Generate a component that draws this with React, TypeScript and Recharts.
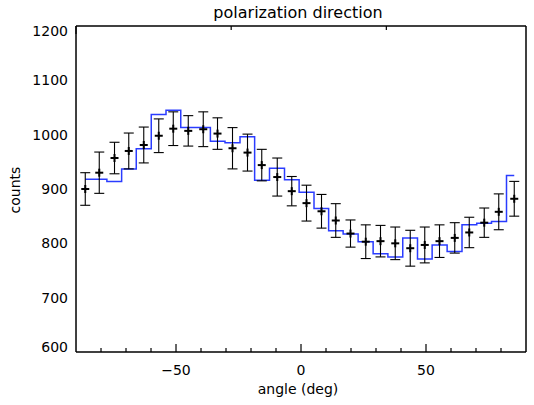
import { ComposedChart, Line, Scatter, ErrorBar, XAxis, YAxis } from 'recharts'

// bin centres (deg), measured counts, 1-sigma errors, model histogram
const angles = [
  -86.3, -80.7, -74.6, -68.9, -62.9, -56.9, -51.1, -45.1, -39.1, -33.4,
  -27.4, -21.4, -15.7, -9.5, -3.7, 2.2, 8.2, 13.9, 19.8, 25.9,
  31.8, 37.7, 43.7, 49.5, 55.4, 61.5, 67.3, 73.3, 79.1, 85.3,
]
const counts = [
  900, 930, 957, 970, 981, 998, 1011, 1007, 1010, 1002,
  975, 967, 944, 922, 896, 874, 859, 842, 818, 803,
  804, 800, 791, 797, 804, 810, 820, 838, 858, 882,
]
const errors = [
  30, 38, 29, 33, 33, 31, 31, 28, 32, 29,
  38, 34, 29, 35, 27, 33, 31, 31, 25, 31,
  29, 30, 33, 33, 30, 28, 28, 27, 33, 32,
]
const model = [
  918, 918, 914, 937, 974, 1037, 1045, 1013, 1013, 988,
  985, 996, 916, 938, 917, 894, 864, 823, 817, 803,
  781, 775, 810, 771, 797, 785, 834, 837, 840, 925,
]

const xMajor = [-50, 0, 50]
const xMinor = [-80, -70, -60, -40, -30, -20, -10, 10, 20, 30, 40, 60, 70, 80]
const xAll = [-80, -70, -60, -50, -40, -30, -20, -10, 0, 10, 20, 30, 40, 50, 60, 70, 80]
const yMajor = [600, 700, 800, 900, 1000, 1100, 1200]
const yMinor = [
  610, 620, 630, 640, 650, 660, 670, 680, 690, 710, 720, 730, 740, 750, 760, 770, 780, 790,
  810, 820, 830, 840, 850, 860, 870, 880, 890, 910, 920, 930, 940, 950, 960, 970, 980, 990,
  1010, 1020, 1030, 1040, 1050, 1060, 1070, 1080, 1090, 1110, 1120, 1130, 1140, 1150, 1160,
  1170, 1180, 1190,
]

const data = angles.map((angle, i) => ({
  angle,
  counts: counts[i],
  err: errors[i],
  model: model[i],
}))

const FONT = 'DejaVu Sans'
const INK = '#000'
// axes need a non-zero size to be drawn, but should take no room
const THIN = 0.01

const NoLabel = () => <g />

const PlusMarker = (props: any) => {
  const { cx, cy } = props
  if (cx == null || cy == null) return null
  return (
    <g stroke={INK} strokeWidth={2}>
      <line x1={cx - 4} y1={cy} x2={cx + 4} y2={cy} />
      <line x1={cx} y1={cy - 4} x2={cx} y2={cy + 4} />
    </g>
  )
}

// bottom axis: inward tick (long on majors) plus label on majors
const XTick = (props: any) => {
  const { x, y, payload } = props
  const v = payload.value
  const major = xMajor.includes(v)
  return (
    <g>
      <line x1={x} y1={y} x2={x} y2={y - (major ? 8 : 4)} stroke={INK} strokeWidth={1.2} />
      {major && (
        <text x={x} y={y + 13} dy="0.71em" textAnchor="middle" fill={INK} fontSize={14} fontFamily={FONT}>
          {v < 0 ? '\u2212' + Math.abs(v) : String(v)}
        </text>
      )}
    </g>
  )
}

// end labels sit a little inside the frame, like the original
const YTick = (props: any) => {
  const { x, y, payload } = props
  let dy = 5
  if (payload.value === 1200) dy = 10
  if (payload.value === 600) dy = 0
  return (
    <text x={x} y={y} dy={dy} textAnchor="end" fill={INK} fontSize={14} fontFamily={FONT}>
      {payload.value}
    </text>
  )
}

const domainX: [number, number] = [-90, 90]
const domainY: [number, number] = [600, 1200]
const tl = { stroke: INK, strokeWidth: 1.2 }

export default function App() {
  return (
    <div style={{ position: 'absolute', left: 0, top: 0, background: '#fff' }}>
      <ComposedChart
        width={534}
        height={405}
        data={data}
        margin={{ top: 26, right: 8, bottom: 53, left: 76 }}
      >
        <XAxis
          xAxisId={0}
          dataKey="angle"
          type="number"
          domain={domainX}
          ticks={xAll}
          interval={0}
          height={THIN}
          tickLine={false}
          tickSize={0}
          tickMargin={0}
          axisLine={{ stroke: INK, strokeWidth: 1.5 }}
          tick={<XTick />}
        />
        <XAxis xAxisId="tMaj" orientation="top" type="number" domain={domainX} ticks={xMajor} height={THIN} mirror tickSize={8} tick={<NoLabel />} axisLine={{ stroke: INK, strokeWidth: 1.5 }} tickLine={tl} />
        <XAxis xAxisId="tMin" orientation="top" type="number" domain={domainX} ticks={xMinor} height={THIN} mirror tickSize={4} tick={<NoLabel />} axisLine={false} tickLine={tl} />

        {/* left: labels + frame, ticks pointing in; right: frame + ticks */}
        <YAxis
          yAxisId={0}
          type="number"
          domain={domainY}
          ticks={yMajor}
          width={THIN}
          tickLine={false}
          tickSize={0}
          tickMargin={8}
          axisLine={{ stroke: INK, strokeWidth: 1.5 }}
          tick={<YTick />}
        />
        <YAxis yAxisId="lMaj" type="number" domain={domainY} ticks={yMajor} width={THIN} mirror tickSize={10} tick={<NoLabel />} axisLine={false} tickLine={tl} />
        <YAxis yAxisId="lMin" type="number" domain={domainY} ticks={yMinor} width={THIN} mirror tickSize={5} tick={<NoLabel />} axisLine={false} tickLine={tl} />
        <YAxis yAxisId="rMaj" orientation="right" type="number" domain={domainY} ticks={yMajor} width={THIN} mirror tickSize={10} tick={<NoLabel />} axisLine={{ stroke: INK, strokeWidth: 1.5 }} tickLine={tl} />
        <YAxis yAxisId="rMin" orientation="right" type="number" domain={domainY} ticks={yMinor} width={THIN} mirror tickSize={5} tick={<NoLabel />} axisLine={false} tickLine={tl} />

        <Line
          dataKey="model"
          type="step"
          stroke="#2a3cff"
          strokeWidth={1.5}
          dot={false}
          activeDot={false}
          isAnimationActive={false}
        />
        <Scatter dataKey="counts" shape={<PlusMarker />} isAnimationActive={false}>
          <ErrorBar dataKey="err" direction="y" width={5} stroke={INK} strokeWidth={1.1} />
        </Scatter>

        <text x={298} y={18} textAnchor="middle" fill={INK} fontSize={16} fontFamily={FONT}>
          polarization direction
        </text>
        <text x={298} y={394} textAnchor="middle" fill={INK} fontSize={14} fontFamily={FONT}>
          angle (deg)
        </text>
        <text
          x={20}
          y={190}
          textAnchor="middle"
          transform="rotate(-90 20 190)"
          fill={INK}
          fontSize={14}
          fontFamily={FONT}
        >
          counts
        </text>
      </ComposedChart>
    </div>
  )
}
